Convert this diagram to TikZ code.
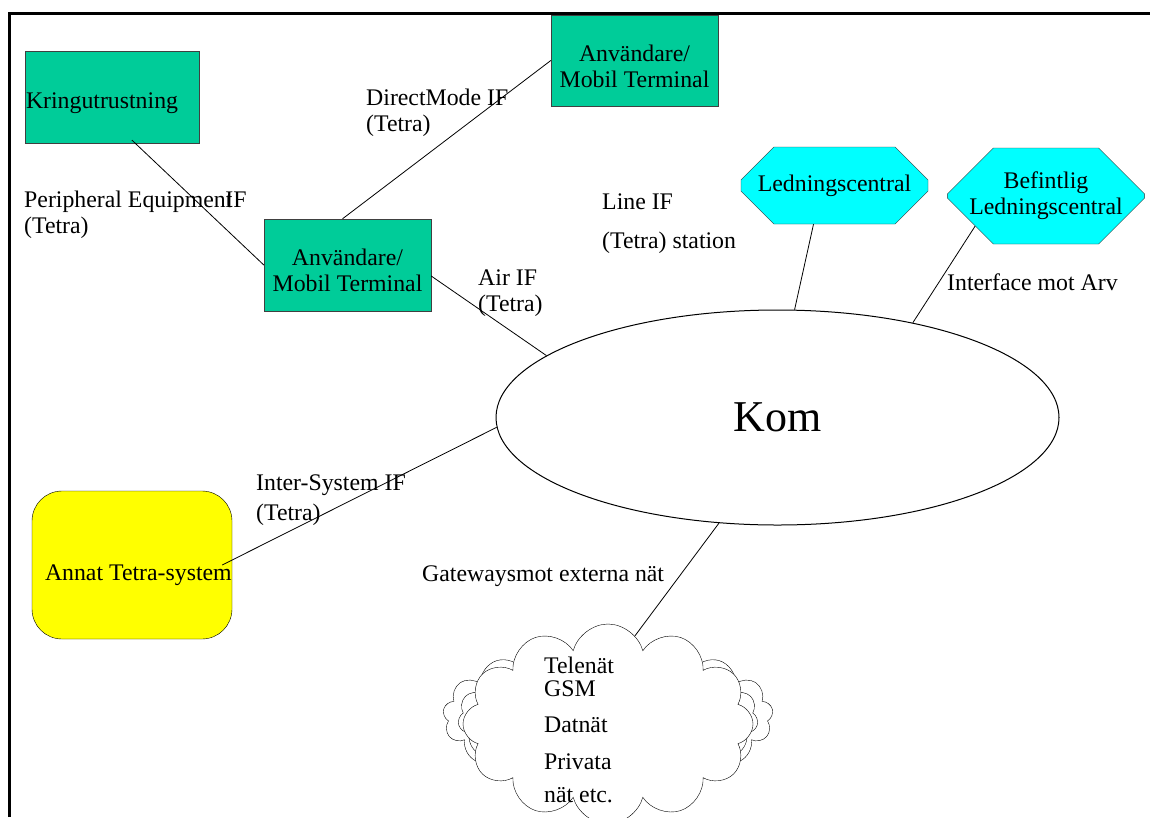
\documentclass[tikz,border=0pt]{standalone}
\usepackage{fontspec}
\setmainfont{Liberation Serif}
\usetikzlibrary{shapes.misc,shapes.symbols,shapes.geometric}
\definecolor{termgreen}{RGB}{0,204,153}
\definecolor{ledcyan}{RGB}{0,255,255}
\definecolor{sysyellow}{RGB}{255,255,0}
\begin{document}
\begin{tikzpicture}[x=1pt,y=-1pt,
    every node/.style={font=\fontsize{23.8}{26}\selectfont},
    box/.style={draw=black!75,fill=termgreen,inner sep=0pt,align=center},
    central/.style={chamfered rectangle,draw=black!80,fill=ledcyan,inner sep=0pt,align=center},
    cloudy/.style={cloud,cloud ignores aspect,draw,fill=white,inner sep=0pt},
    lbl/.style={anchor=west,align=left,inner sep=0pt},
    link/.style={line width=0.8pt}]
  \useasboundingbox (0,0) rectangle (1150,817);
  \draw[line width=3pt] (9,817) -- (9,13) -- (1150,13);

  \node[box,minimum width=174pt,minimum height=92pt,inner xsep=1pt,text height=27pt,text depth=5pt] (kring) at (112,97) {\makebox[172pt][l]{Kringutrustning}};
  \node[box,minimum width=167pt,minimum height=91pt,text height=58pt,text depth=5pt] (term1) at (634.5,60.5) {Användare/\\Mobil Terminal};
  \node[box,minimum width=167pt,minimum height=92pt,text height=58pt,text depth=5pt] (term2) at (347.5,265) {Användare/\\Mobil Terminal};
  \node[central,minimum width=187pt,minimum height=77pt,chamfered rectangle xsep=22pt,chamfered rectangle ysep=22pt] (led) at (834.5,185.5) {Ledningscentral};
  \node[central,minimum width=187pt,minimum height=96pt,chamfered rectangle xsep=22pt,chamfered rectangle ysep=24pt] (bef) at (1046,196) {Befintlig\\Ledningscentral};
  \node[draw,fill=sysyellow,rounded corners=30pt,minimum width=200pt,minimum height=148pt,inner xsep=13pt,inner ysep=0pt,text height=35pt,text depth=5pt] (annat) at (132,565) {\makebox[174pt][l]{Annat Tetra-system}};
  \node[ellipse,draw,line width=1pt,minimum width=563pt,minimum height=215pt,inner sep=0pt,font=\fontsize{44}{48}\selectfont] (kom) at (777.5,417.5) {Kom};

  \node[cloudy,cloud puffs=17,minimum width=330pt,minimum height=150pt] (netback) at (608,716) {};
  \node[cloudy,cloud puffs=15,minimum width=300pt,minimum height=140pt] (netmid) at (608,718) {};
  \node[cloudy,cloud puffs=12,minimum width=290pt,minimum height=200pt] (net) at (608,724) {};
  \node[lbl] (nettext) at (544,730) {Telenät\\[-3pt]GSM\\[10pt]Datnät\\[11pt]Privata\\[7pt]nät etc.};

  \node[lbl] (pelbl) at (24,214.5) {Peripheral Equipment\kern-7pt IF\\(Tetra)};
  \node[lbl] (dmlbl) at (366,112.5) {DirectMode IF\\(Tetra)};
  \node[lbl] (linelbl) at (602,223.5) {Line IF\\[13pt](Tetra) station};
  \node[lbl] (airlbl) at (478,293.5) {Air IF\\(Tetra)};
  \node[lbl] (arvlbl) at (947,282) {Interface mot Arv};
  \node[lbl] (islbl) at (256,500) {Inter-System IF\\[4pt](Tetra)};
  \node[lbl] (gwlbl) at (422,576) {Gatewaysmot externa nät};

  \draw[link] ([xshift=20pt,yshift=3pt]kring.south) -- (term2.west);
  \draw[link] ([xshift=-5pt]term2.north) -- (term1.west);
  \draw[link] ([yshift=-11pt]term2.east) -- (kom.165);
  \draw[link] ([xshift=-21pt]led.south) -- (kom.81);
  \draw[link] (bef.203) -- (kom.35);
  \draw[link] ([xshift=-10pt]annat.east) -- (kom.182);
  \draw[link] (kom.241) -- (net.73);
\end{tikzpicture}
\end{document}
